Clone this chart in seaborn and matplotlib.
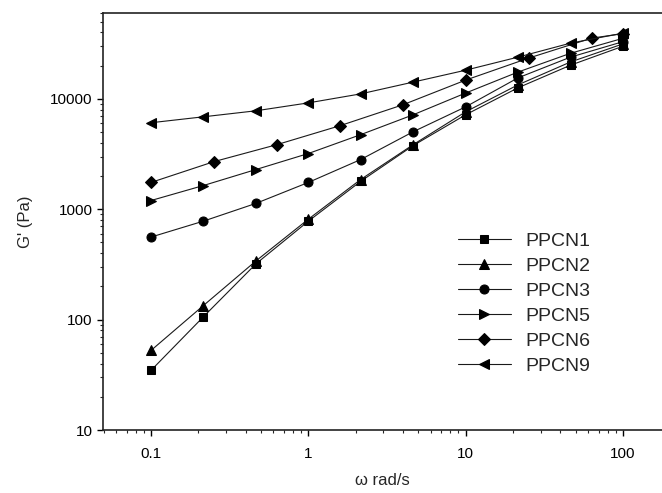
import matplotlib
matplotlib.use("Agg")
import matplotlib.pyplot as plt
import matplotlib.ticker as mticker
import seaborn as sns
import pandas as pd

# ---- data ----
omega_a = [0.1, 0.215, 0.464, 1.0, 2.15, 4.64, 10.0, 21.5, 46.4, 100.0]
omega_b = [0.1, 0.251, 0.631, 1.585, 3.98, 10.0, 25.1, 63.1, 100.0]

ppcn1 = [34.7, 106, 320, 780, 1790, 3780, 7180, 12600, 20200, 30000]
ppcn2 = [52.6, 134, 340, 813, 1860, 3850, 7640, 13400, 21600, 31500]
ppcn3 = [560, 780, 1130, 1750, 2820, 5040, 8470, 15500, 23900, 33000]
ppcn5 = [1200, 1640, 2290, 3200, 4740, 7180, 11300, 17500, 25900, 35400]
ppcn6 = [1750, 2700, 3850, 5710, 8830, 14800, 23400, 35500, 39000]
ppcn9 = [6080, 6880, 7800, 9200, 11100, 14200, 18200, 23900, 32000, 39400]

series_names = ["PPCN1", "PPCN2", "PPCN3", "PPCN5", "PPCN6", "PPCN9"]
series_x = [omega_a, omega_a, omega_a, omega_a, omega_b, omega_a]
series_y = [ppcn1, ppcn2, ppcn3, ppcn5, ppcn6, ppcn9]
markers = ["s", "^", "o", ">", "D", "<"]
msizes = [6, 7, 6.5, 7, 6, 7]

x_ticks = [0.1, 1, 10, 100]
x_ticklabels = ["0.1", "1", "10", "100"]
y_ticks = [10, 100, 1000, 10000]
y_ticklabels = ["10", "100", "1000", "10000"]

rows = []
for name, xs, ys in zip(series_names, series_x, series_y):
    for xv, yv in zip(xs, ys):
        rows.append({"omega": xv, "G": yv, "sample": name})
df = pd.DataFrame(rows)

sns.set_style("ticks")
plt.rcParams["font.family"] = ["Liberation Sans", "DejaVu Sans"]

fig = plt.figure(figsize=(6.62, 4.93), dpi=100)
ax = fig.add_axes([103 / 662, 1 - 430 / 493, (662 - 103) / 662, (430 - 13) / 493])

for name, m, ms in zip(series_names, markers, msizes):
    sub = df[df["sample"] == name]
    sns.lineplot(data=sub, x="omega", y="G", ax=ax, color="#1a1a1a", lw=0.8,
                 marker=m, markersize=ms, markeredgecolor="black",
                 markerfacecolor="black", label=name, estimator=None,
                 sort=False)

ax.set_xscale("log")
ax.set_yscale("log")
ax.set_xlim(0.0495, 177)
ax.set_ylim(10, 60000)

ax.set_xticks(x_ticks)
ax.set_xticklabels(x_ticklabels)
ax.set_yticks(y_ticks)
ax.set_yticklabels(y_ticklabels)
ax.xaxis.set_minor_locator(mticker.LogLocator(base=10, subs=range(2, 10), numticks=20))
ax.yaxis.set_minor_locator(mticker.LogLocator(base=10, subs=range(2, 10), numticks=20))
ax.xaxis.set_minor_formatter(mticker.NullFormatter())
ax.yaxis.set_minor_formatter(mticker.NullFormatter())

ax.tick_params(axis="both", which="major", direction="out", length=4, width=1,
               labelsize=11, colors="black")
ax.tick_params(axis="both", which="minor", direction="out", length=2.2, width=0.8)
ax.tick_params(axis="x", pad=8)

for s in ["left", "bottom", "top"]:
    ax.spines[s].set_visible(True)
    ax.spines[s].set_linewidth(1.2)
    ax.spines[s].set_color("#222222")
ax.spines["right"].set_visible(False)

ax.set_xlabel("\u03c9 rad/s", fontsize=12, labelpad=9)
ax.set_ylabel("G' (Pa)", fontsize=12, labelpad=12)

leg = ax.legend(loc="upper left", bbox_to_anchor=(458 / 662, 1 - 232 / 493),
                bbox_transform=fig.transFigure, frameon=False, fontsize=14,
                handlelength=2.7, handletextpad=0.75, labelspacing=0.38,
                borderpad=0, borderaxespad=0)

fig.savefig("out.png", dpi=100)
